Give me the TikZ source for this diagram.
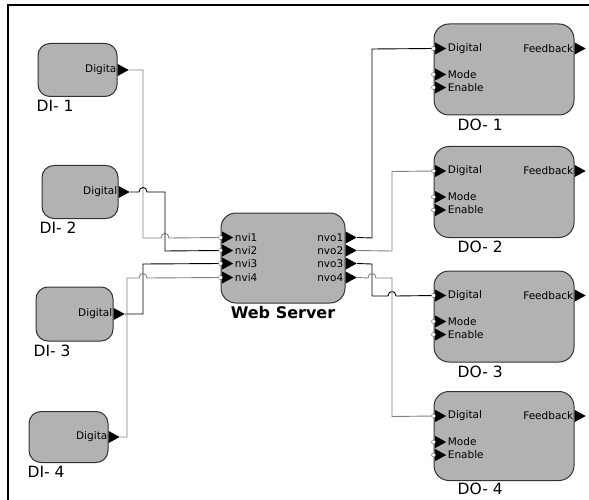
\documentclass[tikz,border=0pt]{standalone}
\usepackage{fontspec}
\setmainfont{DejaVu Sans}
\usepackage{tikz}
\usetikzlibrary{positioning,shapes.geometric}

\begin{document}
\begin{tikzpicture}[
  x=1pt, y=-1pt,
  blk/.style={draw=black!80, fill=black!30, line width=1pt, rounded corners=12pt},
  diblk/.style={blk, minimum width=79pt, minimum height=53pt},
  wsblk/.style={blk, rounded corners=15pt, minimum width=124pt, minimum height=90pt},
  doblk/.style={blk, rounded corners=15pt, minimum width=140pt, minimum height=91pt},
  outport/.style={isosceles triangle, isosceles triangle stretches, fill=black, inner sep=0pt, minimum width=12pt, minimum height=11pt, anchor=west},
  inport/.style={outport, xshift=1.5pt},
  jack/.style={circle, draw=black!60, fill=white, line width=0.4pt, inner sep=0pt, minimum size=4pt},
  plbl/.style={font=\fontsize{10.5}{10.5}\selectfont, inner sep=0pt},
  blbl/.style={font=\fontsize{15.5}{15.5}\selectfont, inner sep=0pt},
  wire/.style={line width=0.9pt, black},
  gwire/.style={line width=0.9pt, black!50}
]
\useasboundingbox (0,0) rectangle (589,500);
\draw[line width=1.3pt] (8,500) -- (8,5) -- (589,5);

% digital inputs
\node[diblk] (di1) at (77.5,70) {};
\node[outport] (di1-out) at (di1.east) {};
\node[plbl, left=1pt of di1-out] (di1-txt) {Digita};
\node[blbl, below right=3pt and -1pt of di1.south west] (di1-lbl) {DI- 1};

\node[diblk, minimum width=76pt] (di2) at (80,192) {};
\node[outport] (di2-out) at (di2.east) {};
\node[plbl, left=1pt of di2-out] (di2-txt) {Digital};
\node[blbl, below right=3pt and -2pt of di2.south west] (di2-lbl) {DI- 2};

\node[diblk, minimum width=77pt, minimum height=54pt] (di3) at (74.5,314) {};
\node[outport] (di3-out) at (di3.east) {};
\node[plbl, left=1pt of di3-out] (di3-txt) {Digital};
\node[blbl, below right=3pt and -2pt of di3.south west] (di3-lbl) {DI- 3};

\node[diblk, minimum height=51pt] (di4) at (68.5,437) {};
\node[outport] (di4-out) at (di4.east) {};
\node[plbl, left=1pt of di4-out] (di4-txt) {Digita};
\node[blbl, below right=3pt and -1pt of di4.south west] (di4-lbl) {DI- 4};

% web server
\node[wsblk] (ws) at (283,258) {};
\node[font=\fontsize{16}{16}\selectfont\bfseries, inner sep=0pt, below=3pt of ws] (ws-lbl) {Web Server};
\node[inport] (ws-i1) at ([yshift=-25pt]ws.north west) {};
\node[jack] (ws-i1j) at ([yshift=-25pt]ws.north west) {};
\node[plbl, right=1pt of ws-i1] (ws-i1t) {nvi1};
\node[inport] (ws-i2) at ([yshift=-38pt]ws.north west) {};
\node[jack] (ws-i2j) at ([yshift=-38pt]ws.north west) {};
\node[plbl, right=1pt of ws-i2] (ws-i2t) {nvi2};
\node[inport] (ws-i3) at ([yshift=-51pt]ws.north west) {};
\node[jack] (ws-i3j) at ([yshift=-51pt]ws.north west) {};
\node[plbl, right=1pt of ws-i3] (ws-i3t) {nvi3};
\node[inport] (ws-i4) at ([yshift=-65pt]ws.north west) {};
\node[jack] (ws-i4j) at ([yshift=-65pt]ws.north west) {};
\node[plbl, right=1pt of ws-i4] (ws-i4t) {nvi4};
\node[outport] (ws-o1) at ([yshift=-25pt]ws.north east) {};
\node[plbl, left=2pt of ws-o1] (ws-o1t) {nvo1};
\node[outport] (ws-o2) at ([yshift=-38pt]ws.north east) {};
\node[plbl, left=2pt of ws-o2] (ws-o2t) {nvo2};
\node[outport] (ws-o3) at ([yshift=-51pt]ws.north east) {};
\node[plbl, left=2pt of ws-o3] (ws-o3t) {nvo3};
\node[outport] (ws-o4) at ([yshift=-65pt]ws.north east) {};
\node[plbl, left=2pt of ws-o4] (ws-o4t) {nvo4};

% digital outputs
\node[doblk] (do1) at (504,69.5) {};
\node[blbl, below right=3pt and 24pt of do1.south west] (do1-lbl) {DO- 1};
\node[inport] (do1-d) at ([yshift=-25pt]do1.north west) {};
\node[jack] (do1-dj) at ([yshift=-25pt]do1.north west) {};
\node[plbl, right=1pt of do1-d] (do1-dt) {Digital};
\node[inport] (do1-m) at ([yshift=-51pt]do1.north west) {};
\node[jack] (do1-mj) at ([yshift=-51pt]do1.north west) {};
\node[plbl, right=1pt of do1-m] (do1-mt) {Mode};
\node[inport] (do1-e) at ([yshift=-64pt]do1.north west) {};
\node[jack] (do1-ej) at ([yshift=-64pt]do1.north west) {};
\node[plbl, right=1pt of do1-e] (do1-et) {Enable};
\node[outport] (do1-f) at ([yshift=-25pt]do1.north east) {};
\node[plbl, left=1pt of do1-f] (do1-ft) {Feedback};

\node[doblk] (do2) at (504,192) {};
\node[blbl, below right=3pt and 24pt of do2.south west] (do2-lbl) {DO- 2};
\node[inport] (do2-d) at ([yshift=-25pt]do2.north west) {};
\node[jack] (do2-dj) at ([yshift=-25pt]do2.north west) {};
\node[plbl, right=1pt of do2-d] (do2-dt) {Digital};
\node[inport] (do2-m) at ([yshift=-51pt]do2.north west) {};
\node[jack] (do2-mj) at ([yshift=-51pt]do2.north west) {};
\node[plbl, right=1pt of do2-m] (do2-mt) {Mode};
\node[inport] (do2-e) at ([yshift=-64pt]do2.north west) {};
\node[jack] (do2-ej) at ([yshift=-64pt]do2.north west) {};
\node[plbl, right=1pt of do2-e] (do2-et) {Enable};
\node[outport] (do2-f) at ([yshift=-25pt]do2.north east) {};
\node[plbl, left=1pt of do2-f] (do2-ft) {Feedback};

\node[doblk] (do3) at (504,316.5) {};
\node[blbl, below right=3pt and 24pt of do3.south west] (do3-lbl) {DO- 3};
\node[inport] (do3-d) at ([yshift=-25pt]do3.north west) {};
\node[jack] (do3-dj) at ([yshift=-25pt]do3.north west) {};
\node[plbl, right=1pt of do3-d] (do3-dt) {Digital};
\node[inport] (do3-m) at ([yshift=-51pt]do3.north west) {};
\node[jack] (do3-mj) at ([yshift=-51pt]do3.north west) {};
\node[plbl, right=1pt of do3-m] (do3-mt) {Mode};
\node[inport] (do3-e) at ([yshift=-64pt]do3.north west) {};
\node[jack] (do3-ej) at ([yshift=-64pt]do3.north west) {};
\node[plbl, right=1pt of do3-e] (do3-et) {Enable};
\node[outport] (do3-f) at ([yshift=-25pt]do3.north east) {};
\node[plbl, left=1pt of do3-f] (do3-ft) {Feedback};

\node[doblk, minimum height=89pt] (do4) at (504,436) {};
\node[blbl, below right=1.5pt and 24pt of do4.south west] (do4-lbl) {DO- 4};
\node[inport] (do4-d) at ([yshift=-25pt]do4.north west) {};
\node[jack] (do4-dj) at ([yshift=-25pt]do4.north west) {};
\node[plbl, right=1pt of do4-d] (do4-dt) {Digital};
\node[inport] (do4-m) at ([yshift=-51pt]do4.north west) {};
\node[jack] (do4-mj) at ([yshift=-51pt]do4.north west) {};
\node[plbl, right=1pt of do4-m] (do4-mt) {Mode};
\node[inport] (do4-e) at ([yshift=-64pt]do4.north west) {};
\node[jack] (do4-ej) at ([yshift=-64pt]do4.north west) {};
\node[plbl, right=1pt of do4-e] (do4-et) {Enable};
\node[outport] (do4-f) at ([yshift=-25pt]do4.north east) {};
\node[plbl, left=1pt of do4-f] (do4-ft) {Feedback};

% wiring, with hops where lines cross
\draw[gwire] (di1-out.apex) -- (143,70) -- (143,238) -- (161,238) .. controls (161,232) and (169,232) .. (169,238) -- (ws-i1j);
\draw[wire] (di2-out.apex) -- (139,192) .. controls (139,186) and (147,186) .. (147,192) -- (165,192) -- (165,251) -- (ws-i2j);
\draw[wire] (di3-out.apex) -- (143,314) -- (143,264) -- (ws-i3j);
\draw[gwire] (di4-out.apex) -- (127,437) -- (127,278) -- (139,278) .. controls (139,272) and (147,272) .. (147,278) -- (ws-i4j);

\draw[wire] (ws-o1.apex) -- (372,238) -- (372,49) -- (do1-dj);
\draw[gwire] (ws-o2.apex) -- (392,251) -- (392,171.5) -- (do2-dj);
\draw[wire] (ws-o3.apex) -- (372,264) -- (372,296) -- (388,296) .. controls (388,290) and (396,290) .. (396,296) -- (do3-dj);
\draw[gwire] (ws-o4.apex) -- (368,278) .. controls (368,272) and (376,272) .. (376,278) -- (392,278) -- (392,416.5) -- (do4-dj);
\end{tikzpicture}
\end{document}
